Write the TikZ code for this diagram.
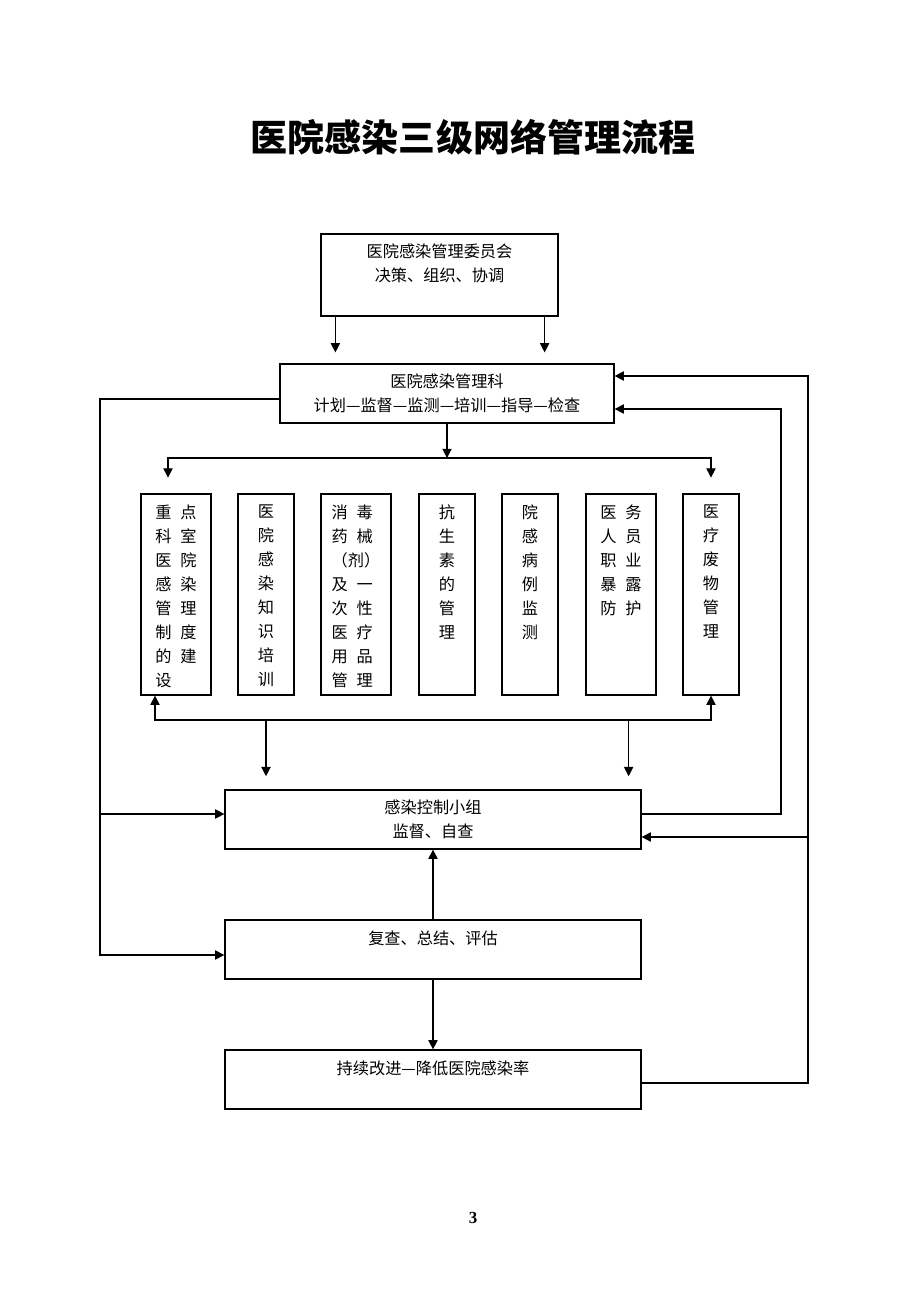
\documentclass[tikz,border=0pt]{standalone}
\usepackage{fontspec}
\setmainfont{Noto Sans CJK SC}
\newfontfamily\numfont{Liberation Serif}
\usetikzlibrary{arrows.meta, positioning, calc}
\newcommand{\unitpx}{0.0228cm}
\newcommand{\gp}{\hspace{0.2cm}}

\begin{document}
\begin{tikzpicture}[x=0.0228cm, y=-0.0228cm,
  box/.style={rectangle, draw, line width=0.8pt, inner sep=0pt, align=center, font=\fontsize{10.5pt}{15.6pt}\selectfont},
  txt/.style={inner sep=0pt, align=center, font=\fontsize{10.5pt}{15.6pt}\selectfont},
  coltxt/.style={txt, align=left},
  arr/.style={-{Triangle[length=6pt,width=6pt]}, line width=0.7pt},
  ln/.style={line width=0.7pt}]
\useasboundingbox (0,0) rectangle (920,1302);

\node[font=\fontsize{24pt}{28pt}\selectfont\bfseries] (title) at (473,137) {医院感染三级网络管理流程};

\node[box, minimum width=237*\unitpx, minimum height=82*\unitpx] (cmte) at (439.5,275) {};
\node[txt, below=0.23cm of cmte.north] (cmtetxt) {医院感染管理委员会\\决策、组织、协调};

\node[box, minimum width=334*\unitpx, minimum height=59*\unitpx] (kes) at (447,393.5) {医院感染管理科\\计划—监督—监测—培训—指导—检查};

\node[box, minimum width=70*\unitpx, minimum height=201*\unitpx] (k1) at (176,594.5) {};
\node[box, minimum width=56*\unitpx, minimum height=201*\unitpx] (k2) at (266,594.5) {};
\node[box, minimum width=70*\unitpx, minimum height=201*\unitpx] (k3) at (356,594.5) {};
\node[box, minimum width=56*\unitpx, minimum height=201*\unitpx] (k4) at (447,594.5) {};
\node[box, minimum width=56*\unitpx, minimum height=201*\unitpx] (k5) at (530,594.5) {};
\node[box, minimum width=70*\unitpx, minimum height=201*\unitpx] (k6) at (621,594.5) {};
\node[box, minimum width=56*\unitpx, minimum height=201*\unitpx] (k7) at (711,594.5) {};

\node[coltxt, below=0.25cm of k1.north] (k1txt) {重\gp 点\\科\gp 室\\医\gp 院\\感\gp 染\\管\gp 理\\制\gp 度\\的\gp 建\\设};
\node[txt, below=0.25cm of k2.north] (k2txt) {医\\院\\感\\染\\知\\识\\培\\训};
\node[coltxt, below=0.25cm of k3.north] (k3txt) {消\gp 毒\\药\gp 械\\（剂）\\及\gp 一\\次\gp 性\\医\gp 疗\\用\gp 品\\管\gp 理};
\node[txt, below=0.25cm of k4.north] (k4txt) {抗\\生\\素\\的\\管\\理};
\node[txt, below=0.25cm of k5.north] (k5txt) {院\\感\\病\\例\\监\\测};
\node[coltxt, below=0.25cm of k6.north] (k6txt) {医\gp 务\\人\gp 员\\职\gp 业\\暴\gp 露\\防\gp 护};
\node[txt, below=0.25cm of k7.north] (k7txt) {医\\疗\\废\\物\\管\\理};

\node[box, minimum width=416*\unitpx, minimum height=59*\unitpx] (ctrl) at (433,819.5) {感染控制小组\\监督、自查};

\node[box, minimum width=416*\unitpx, minimum height=59*\unitpx] (review) at (433,949.5) {};
\node[txt, below=0.25cm of review.north] (reviewtxt) {复查、总结、评估};

\node[box, minimum width=416*\unitpx, minimum height=59*\unitpx] (improve) at (433,1079.5) {};
\node[txt, below=0.25cm of improve.north] (improvetxt) {持续改进—降低医院感染率};

\node[font=\numfont\bfseries\fontsize{11pt}{13pt}\selectfont] (pagenum) at (473,1218) {3};

\coordinate (bustop) at (447,458);
\coordinate (busbot) at (447,720);
\coordinate (cmtel) at ($(cmte.south west)+(15,0)$);
\coordinate (cmter) at ($(cmte.south east)+(-14,0)$);
\coordinate (busr) at ($(busbot -| ctrl.east)+(-13,0)$);
\coordinate (lftt) at ($(kes.west)+(0,5.5)$);
\coordinate (lftm) at (100,814);
\coordinate (lftb) at (100,955);
\coordinate (rint) at (781,409);
\coordinate (routt) at (808,376);
\coordinate (routm) at (808,837);

\draw[arr, shorten >=0.25cm] (cmtel) -- (cmtel |- kes.north);
\draw[arr, shorten >=0.25cm] (cmter) -- (cmter |- kes.north);

\draw[arr] (kes.south) -- (kes.south |- bustop);
\draw[arr, shorten >=0.36cm] (bustop) -| ($(k1.north)+(-8,0)$);
\draw[arr, shorten >=0.36cm] (bustop) -| (k7.north);

\draw[arr] (busbot) -| ($(k1.south)+(-21,0)$);
\draw[arr] (busbot) -| (k7.south);
\draw[arr, shorten >=0.3cm] (k2.south |- busbot) -- (k2.south |- ctrl.north);
\draw[arr, shorten >=0.3cm] (busr) -- (busr |- ctrl.north);

\draw[arr] (lftt) -| (lftb) -- (lftb -| review.west);
\draw[arr] (lftm) -- (lftm -| ctrl.west);

\draw[arr] ($(ctrl.east)+(0,-5.5)$) -| (rint) -- (rint -| kes.east);
\draw[arr] ($(improve.east)+(0,3.5)$) -| (routt) -- (routt -| kes.east);
\draw[arr] (routm) -- (routm -| ctrl.east);

\draw[arr] (review.north) -- (ctrl.south);
\draw[arr] (review.south) -- (improve.north);
\end{tikzpicture}
\end{document}
